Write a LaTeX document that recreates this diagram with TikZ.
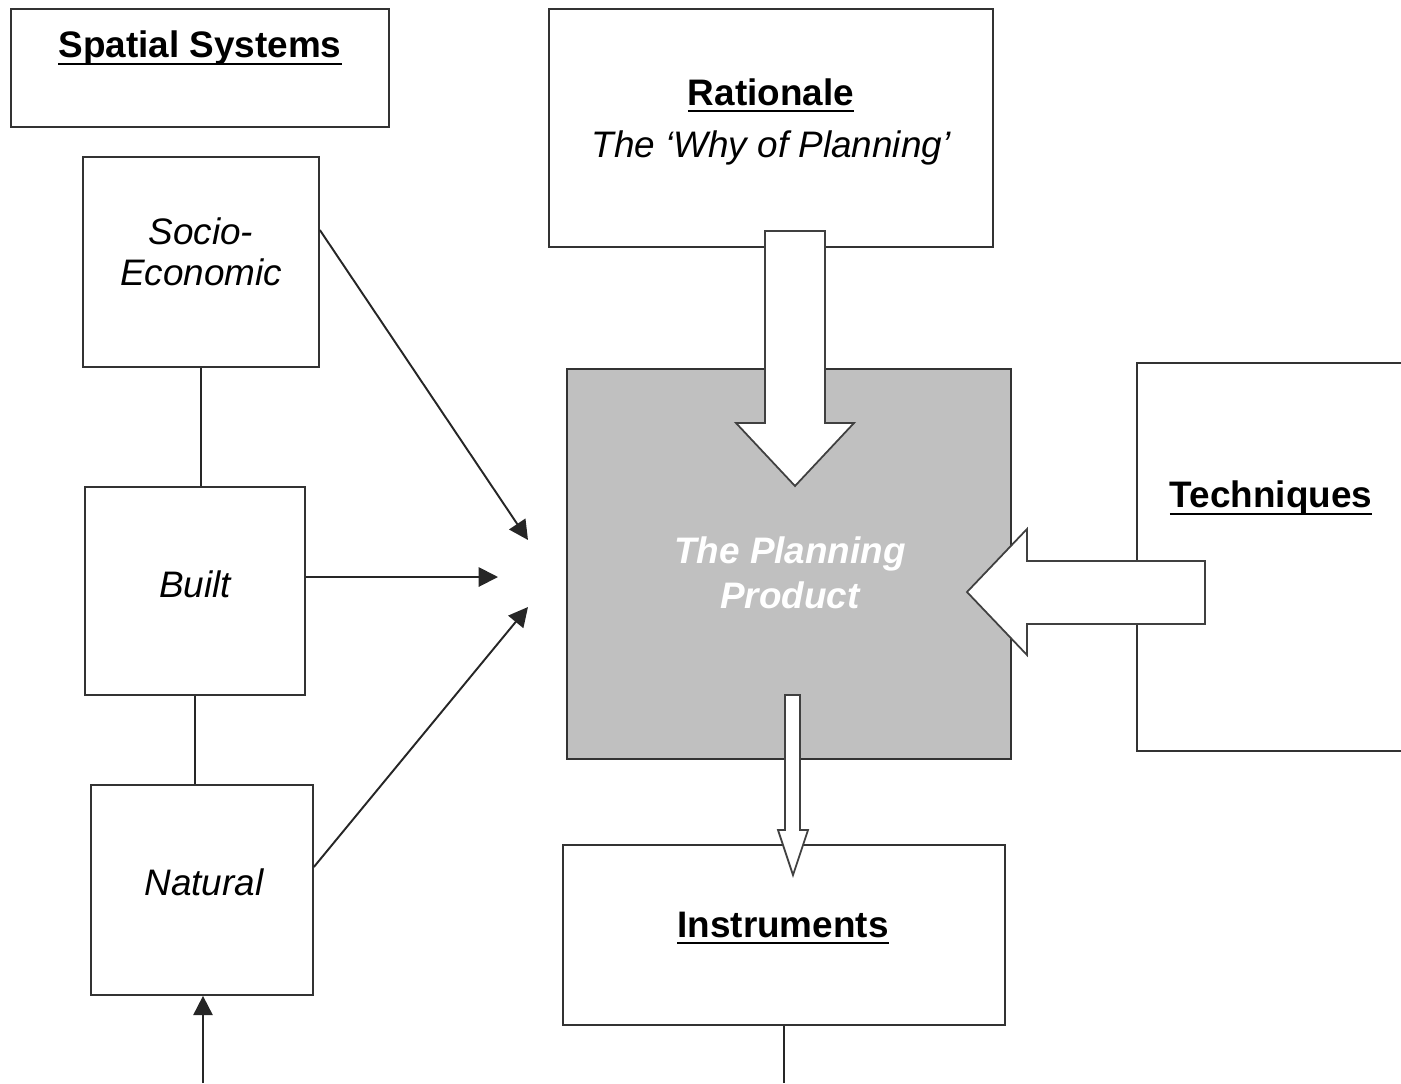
\documentclass[tikz,border=0pt]{standalone}
\usepackage{fontspec}
\setmainfont{Liberation Sans}
\usetikzlibrary{arrows.meta, positioning}

\newcommand{\ulbar}[1]{\leavevmode\setbox0\hbox{#1}\rlap{\copy0}\rule[-4pt]{\wd0}{1.1pt}}

\tikzset{
  box/.style={draw=black!80, line width=1pt, fill=white, inner sep=0pt},
  head/.style={font=\bfseries\fontsize{21}{25}\selectfont, align=center},
  sub/.style={font=\itshape\fontsize{21}{23}\selectfont, align=center},
  conn/.style={draw=black!85, line width=1.1pt, -{Triangle[length=11pt,width=11pt]}},
  blockarrow/.style={draw=black!75, line width=1pt, fill=white, line join=miter},
}

\begin{document}
\begin{tikzpicture}[x=0.02cm, y=-0.02cm]
        \useasboundingbox (0,0) rectangle (1401,1083);

        % Spatial systems column
        \node[box, minimum width=7.56cm, minimum height=2.36cm] (sys) at (200,68) {};
        \node[head] (sys text) at (200,48) {\ulbar{Spatial Systems}};
        \node[box, minimum width=4.72cm, minimum height=4.2cm] (soc) at (201,262) {};
        \node[sub] (soc text) at (201,252) {Socio-\\Economic};
        \node[box, minimum width=4.4cm, minimum height=4.16cm] (blt) at (195,591) {};
        \node[sub] (blt text) at (195,584) {Built};
        \node[box, minimum width=4.44cm, minimum height=4.2cm] (nat) at (202,890) {};
        \node[sub] (nat text) at (204,882) {Natural};

        % Rationale, product, techniques, instruments
        \node[box, minimum width=8.88cm, minimum height=4.76cm] (rat) at (771,128) {};
        \node[sub] (rat text) at (771,122) {\upshape\bfseries\ulbar{Rationale}\\[7pt]The ‘Why of Planning’};
        \node[box, fill={rgb,255:red,192;green,192;blue,192}, minimum width=8.88cm, minimum height=7.8cm] (prod) at (789,564) {};
        \node[sub, font=\bfseries\itshape\fontsize{21}{25.5}\selectfont, text=white] (prod text) at (790,573) {The Planning\\Product};
        \node[box, minimum width=5.36cm, minimum height=7.76cm] (tech) at (1271,557) {};
        \node[head] (tech text) at (1271,498) {\ulbar{Techniques}};
        \node[box, minimum width=8.84cm, minimum height=3.6cm] (ins) at (784,935) {};
        \node[head] (ins text) at (783,928) {\ulbar{Instruments}};

        % Free ends
        \coordinate (hub top) at (528,540);
        \coordinate (hub mid) at (498,577);
        \coordinate (hub low) at (528,607);
        \coordinate (nat feed) at (203,1083);
        \coordinate (ins end) at (784,1083);

        % Plain links
        \draw[draw=black!85, line width=1.1pt] (soc.south) -- (soc.south |- blt.north);
        \draw[draw=black!85, line width=1.1pt] (blt.south) -- (blt.south |- nat.north);
        \draw[draw=black!85, line width=1.1pt] (ins.south) -- (ins end);

        % Arrows into the product
        \draw[conn] ([yshift=0.64cm]soc.east) -- (hub top);
        \draw[conn] ([yshift=0.28cm]blt.east) -- (hub mid);
        \draw[conn] ([yshift=0.46cm]nat.east) -- (hub low);
        \draw[conn] (nat feed) -- (nat.south -| nat feed);

        % Block arrows
        \draw[blockarrow] (765,231) -- (825,231) -- (825,423) -- (854,423) -- (795,486)
                -- (736,423) -- (765,423) -- cycle;
        \draw[blockarrow] (1205,561) -- (1205,624) -- (1027,624) -- (1027,655) -- (967,592)
                -- (1027,529) -- (1027,561) -- cycle;
        \draw[blockarrow] (785,695) -- (800,695) -- (800,830) -- (808,830) -- (793,875)
                -- (778,830) -- (785,830) -- cycle;
    \end{tikzpicture}
\end{document}
